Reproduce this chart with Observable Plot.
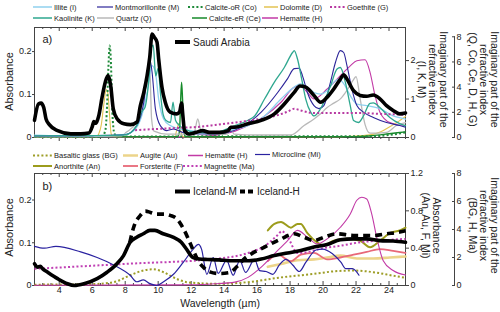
<!DOCTYPE html>
<html><head><meta charset="utf-8">
<script src="https://cdn.jsdelivr.net/npm/d3@7"></script>
<script src="https://cdn.jsdelivr.net/npm/@observablehq/plot@0.6"></script>
<style>
body{margin:0;background:#fff;}
#root{position:relative;width:500px;height:312px;overflow:hidden;font-family:"Liberation Sans",Arial,sans-serif;}
#root svg{position:absolute;left:0;}
</style></head><body><div id="root"></div>
<script>
// ---------- Panel a data (x in µm) ----------
const saX = [2.5,2.74,2.9,3.06,3.2,3.4,3.9,4.7,5.3,5.8,6.0,6.1,6.2,6.27,6.4,6.6,6.8,6.96,7.12,7.28,7.52,7.92,8.32,8.72,8.92,9.13,9.33,9.49,9.63,9.77,9.93,10.03,10.23,10.43,10.73,11.13,11.3,11.42,11.5,11.6,11.9,12.3,12.7,13.1,13.7,14.25,14.4,14.65,15.45,16.25,17.05,17.65,18.25,18.6,18.95,19.45,19.85,20.25,20.65,21.05,21.25,21.45,21.85,22.25,22.65,23.05,23.45,23.85,24.25,24.65,25];
const saV = [0.04,0.078,0.08,0.07,0.043,0.03,0.016,0.0085,0.0085,0.0105,0.025,0.037,0.033,0.036,0.051,0.094,0.13,0.144,0.121,0.066,0.043,0.032,0.03,0.036,0.074,0.105,0.144,0.187,0.241,0.233,0.222,0.183,0.117,0.082,0.059,0.055,0.06,0.08,0.05,0.016,0.008,0.012,0.016,0.012,0.012,0.016,0.024,0.024,0.032,0.04,0.055,0.078,0.105,0.12,0.117,0.098,0.082,0.094,0.113,0.136,0.146,0.136,0.109,0.098,0.096,0.099,0.09,0.074,0.063,0.055,0.057];

// imaginary index, axis (I, K, M)
const illX = [2.5,4,6,8.0,8.5,9.0,9.33,9.63,9.83,10.03,10.33,10.73,11.33,12.0,12.7,13.45,14.65,15.45,16.45,17.45,18.25,18.65,19.05,19.45,19.85,20.25,20.65,20.95,21.25,21.65,22.05,22.65,23.45,24.25,25.0];
const illK = [0.06,0.04,0.04,0.08,0.17,0.56,1.17,1.87,1.70,1.0,0.48,0.31,0.22,0.18,0.13,0.13,0.22,0.31,0.56,1.0,1.31,1.40,1.31,1.17,1.13,1.22,1.44,1.52,1.40,1.09,0.87,0.83,0.75,0.56,0.48];
const kaoX = [2.5,6,8.0,8.7,9.0,9.2,9.45,9.6,9.7,9.85,10.0,10.15,10.3,10.46,10.75,10.9,11.05,11.3,11.6,12.3,13.45,14.65,15.45,15.85,16.45,17.05,17.65,18.15,18.25,18.45,18.7,18.95,19.25,19.45,19.85,20.45,20.85,21.05,21.35,21.65,21.85,22.15,22.45,22.85,23.05,23.45,24.05,24.65,25];
const kaoK = [0.04,0.05,0.07,0.31,0.67,0.78,1.56,2.35,2.4,1.6,1.8,1.1,0.6,0.45,0.39,0.92,0.45,0.31,0.22,0.13,0.13,0.31,0.45,0.56,1.0,1.44,1.82,2.21,2.26,2.04,1.53,1.0,0.66,0.56,0.75,1.34,1.78,1.82,1.44,0.83,0.44,0.39,0.56,0.89,0.9,0.78,0.52,0.36,0.31];
const monX = [2.5,6,8,8.7,9.13,9.43,9.49,9.63,9.83,10.13,10.53,10.93,11.5,12.5,13.45,15.05,16.25,17.25,17.85,18.25,18.55,18.75,19.05,19.45,19.75,20.05,20.45,20.75,21.05,21.25,21.45,21.75,22.05,22.45,23.05,23.85,24.65,25];
const monK = [0.04,0.05,0.07,0.31,0.92,1.95,2.04,1.7,0.75,0.31,0.18,0.22,0.13,0.09,0.09,0.27,0.66,1.17,1.53,1.79,1.8,1.61,1.17,0.83,0.75,0.83,1.44,1.95,2.26,2.21,1.87,1.26,0.83,0.66,0.52,0.39,0.31,0.27];

// imaginary index, axis (Q, Co, Ce, D, H, G)
const qzX = [2.5,7.8,8.06,8.7,8.9,9.13,9.28,9.4,9.5,9.6,9.75,10.5,11.5,12.2,12.4,12.6,13.0,14.2,14.4,14.6,16,18.05,18.85,19.45,19.85,20.25,20.65,21.05,21.45,21.85,22.0,22.25,22.55,22.85,23.85,24.45,25];
const qzK = [0.07,0.14,0.41,1.23,2.05,3.07,4.64,5.29,5.12,1.5,0.5,0.27,0.27,0.51,1.47,0.51,0.27,0.27,0.68,0.27,0.2,0.2,0.95,1.47,1.88,2.39,2.73,3.07,3.75,4.6,4.84,3.07,1.02,0.34,0.41,0.95,1.19];
const coX = [2.5,6.6,6.8,6.9,6.98,7.06,7.14,7.22,7.35,7.6,13.8,14.0,14.2,23,24,25];
const coK = [0.05,0.07,0.6,2.5,5.5,7.3,5.8,2.0,0.3,0.07,0.1,0.4,0.1,0.1,0.2,0.4];
const ceX = [2.5,11.2,11.3,11.36,11.42,11.48,11.55,11.65,22,23,24,25];
const ceK = [0.05,0.07,0.6,2.8,4.4,3.0,0.6,0.07,0.07,0.15,0.3,0.45];
const doX = [2.5,6.3,6.4,6.55,6.7,6.85,6.95,7.05,7.15,7.3,11.0,11.15,11.25,11.35,11.5,21,22,23,23.5,24.1,24.6,25];
const doK = [0.05,0.07,0.3,1.0,2.6,3.8,3.5,1.8,0.3,0.07,0.07,0.7,1.1,0.6,0.07,0.07,0.12,0.25,0.45,0.89,1.3,1.67];
const heAX = [2.5,12,13.45,14.45,15.45,16.45,17.45,18.25,18.6,19.05,19.45,20.25,21.05,21.65,22.05,22.55,22.85,23.15,23.45,24.05,25];
const heAK = [0.02,0.05,0.17,0.41,0.95,1.7,2.8,4.0,4.1,3.58,3.07,3.85,4.91,5.69,6.1,6.17,5.18,3.34,2.01,1.19,0.95];
const goX = [8.6,9.5,11,12.5,13.45,15.45,17.05,17.85,18.25,18.65,19.45,20.65,22.25,23.45,25];
const goK = [0.58,0.65,0.75,0.85,0.99,1.33,1.7,2.05,2.28,2.15,1.94,1.94,1.94,1.88,1.81];

// ---------- Panel b data ----------
const imX = [2.5,2.7,2.85,3.0,3.3,3.9,4.5,4.9,5.5,6.3,6.9,7.5,7.9,8.3,8.7,9.1,9.5,9.8,10.3,10.9,11.4,11.7,12.1,12.5,13.0,13.7,14.3,15.0,15.5,16.25,17.05,17.85,18.65,19.45,20.25,21.05,21.85,22.65,23.45,24.25,25];
const imV = [0.051,0.043,0.045,0.039,0.031,0.016,0.004,0.0,0.004,0.016,0.031,0.051,0.07,0.101,0.113,0.121,0.129,0.129,0.121,0.113,0.101,0.086,0.066,0.062,0.061,0.06,0.058,0.058,0.058,0.062,0.07,0.076,0.082,0.09,0.096,0.107,0.109,0.109,0.105,0.104,0.101];
const ihX = [8.28,8.52,8.92,9.23,9.53,9.93,10.33,10.73,11.13,11.53,11.83,12.13,12.43,12.73,13.13,13.7,14.3,14.8,15.3,15.65,16.45,17.45,18.25,18.85,19.45,20.05,20.85,21.85,23.05,23.85,24.65,25];
const ihV = [0.101,0.137,0.164,0.174,0.171,0.167,0.167,0.164,0.156,0.133,0.109,0.082,0.058,0.043,0.032,0.028,0.03,0.045,0.065,0.074,0.09,0.109,0.121,0.113,0.105,0.113,0.121,0.117,0.117,0.121,0.125,0.128];
// absorbance axis (An, Au, F, Mi)
const miX = [2.5,3.1,3.8,5.3,6.3,7.3,8.3,8.7,9.1,9.5,9.9,10.33,10.93,11.53,12.13,12.44,12.63,12.95,13.34,13.64,14.15,14.55,14.95,15.3,15.85,16.15,16.55,16.95,17.35,17.75,18.16,18.56,18.96,19.57,19.97,20.57,21.08,21.38,21.78,22.18];
const miA = [0.42,0.40,0.42,0.36,0.30,0.22,0.11,0.04,0.06,0.02,0.0,0.04,0.12,0.25,0.39,0.44,0.39,0.12,0.30,0.13,0.27,0.11,0.27,0.14,0.28,0.16,0.15,0.12,0.22,0.28,0.22,0.15,0.25,0.38,0.39,0.34,0.25,0.18,0.18,0.11];
const anX = [16.65,17.05,17.45,18.05,18.45,18.65,19.05,19.65,20.05,20.65,21.45,22.25,22.85,23.45,24.05,24.65,25];
const anA = [0.59,0.66,0.68,0.62,0.66,0.66,0.56,0.46,0.43,0.48,0.5,0.48,0.41,0.48,0.56,0.59,0.62];
const auX = [16.65,17.45,18.45,19.45,20.25,21.05,22.05,23.05,24.05,25];
const auA = [0.2,0.23,0.27,0.28,0.3,0.32,0.29,0.29,0.3,0.31];
const foX = [16.65,17.25,18.05,18.65,19.45,20.25,21.05,21.85,22.65,23.45,24.25,25];
const foA = [0.26,0.33,0.26,0.33,0.35,0.28,0.3,0.33,0.36,0.39,0.37,0.35];
// imaginary index axis (BG, H, Ma)
const maX = [2.5,8.3,13.45,15.45,16.45,17.25,17.5,17.85,18.45,19.05,19.85,21.05,22.25,23.45,25];
const maK = [1.19,1.56,1.9,2.32,2.81,3.61,3.88,3.46,2.32,2.39,2.63,2.84,3.09,3.21,3.33];
const bgX = [2.5,6,7.3,8.3,9.1,9.7,10.33,10.93,11.73,12.73,13.45,15.45,17.45,19.45,20.65,21.85,23.05,24.25,25];
const bgK = [0.06,0.1,0.24,0.73,1.07,1.16,0.95,0.58,0.24,0.15,0.12,0.24,0.58,0.83,1.01,1.07,0.95,0.7,0.55];
const heBX = [2.5,12,13.45,14.65,15.45,16.25,17.05,17.85,18.45,19.05,19.65,20.25,21.05,21.65,22.05,22.35,22.65,22.95,23.25,23.65,24.25,25];
const heBK = [0.02,0.05,0.12,0.24,0.58,1.31,2.26,3.21,3.94,3.46,2.97,3.33,4.16,5.11,6.09,6.3,6.18,5.11,3.46,1.77,1.07,0.75];

// ---------- ticks ----------
const xMajor = [4,6,8,10,12,14,16,18,20,22,24];
const xMinor = d3.range(3, 25.01, 0.5).filter(t => t % 2 !== 0);
const absTicks = [0, 0.1, 0.2];
const aR1Ticks = [0, 1, 2];
const aR2Ticks = [0, 2, 4, 6, 8];
const bR1Ticks = [0, 0.4, 0.8, 1.2];
const bR2Ticks = [0, 2, 4, 6, 8];

// ---------- scale factors between right axes and absorbance ----------
const yMaxA = 0.256, yMaxB = 0.262;
const fa1 = 0.0895, fa2 = 0.0293;
const fb1 = yMaxB / 1.2, fb2 = yMaxB / 8;

// colours
const C = {
  I: "#8fd0ee", K: "#2ea78f", M: "#2c2499", Q: "#b9b9b9", Co: "#1f8a3a", Ce: "#168a2a",
  D: "#e3c352", H: "#c23aa6", G: "#b83aa2", BG: "#9d9d26", Au: "#ecd48a", Mi: "#2a22a0",
  An: "#9c9c1c", F: "#e86878", Ma: "#c040b4"
};
const FONT = '"Liberation Sans", Arial, sans-serif';
const AX = "#444";

function series(xs, ys, f) { return xs.map((x, i) => ({x, y: ys[i] * f})); }
function ln(xs, ys, f, o) {
  return Plot.line(series(xs, ys, f), {x: "x", y: "y", curve: "monotone-x", strokeLinejoin: "round", strokeWidth: 1.1, ...o});
}
const fmt = v => { const r = Math.round(v * 10) / 10; return String(r); };
const DOT = {strokeWidth: 2, strokeDasharray: "2,2.2", strokeLinecap: "butt"};
const T = {textAnchor: "middle", lineAnchor: "middle"};

function commonMarks(frameH, r1, f1, r2, f2, bottomLabels) {
  return [
    Plot.frame({stroke: AX}),
    Plot.tickX(xMajor, {insetBottom: frameH - 4, stroke: AX}),
    Plot.tickX(xMinor, {insetBottom: frameH - 2, stroke: AX}),
    bottomLabels
      ? Plot.tickX(xMajor, {insetTop: frameH - 4, stroke: AX})
      : Plot.axisX({anchor: "bottom", ticks: xMajor, tickSize: 4, tickFormat: () => "", label: null, stroke: AX}),
    bottomLabels
      ? Plot.tickX(xMinor, {insetTop: frameH - 2, stroke: AX})
      : Plot.axisX({anchor: "bottom", ticks: xMinor, tickSize: 2, tickFormat: () => "", label: null, stroke: AX}),
    Plot.axisY({anchor: "left", ticks: absTicks, tickSize: 2, tickPadding: 1, fontSize: 9,
      tickFormat: d => d === 0 ? "0" : d3.format(".1f")(d), label: null, stroke: AX}),
    Plot.axisY({anchor: "right", ticks: r1.map(k => k * f1), tickSize: 3, tickPadding: 2, fontSize: 9,
      tickFormat: d => fmt(d / f1), label: null, stroke: AX}),
    Plot.ruleX([25], {y1: 0, y2: 8 * f2, dx: 49, stroke: AX}),
    Plot.axisY({anchor: "right", ticks: r2.map(k => k * f2), tickSize: 3, dx: 46, tickFormat: () => "", label: null, stroke: AX}),
    Plot.axisY({anchor: "right", ticks: r2.map(k => k * f2), tickSize: 0, tickPadding: 2, dx: 49, fontSize: 9,
      tickFormat: d => fmt(d / f2), label: null})
  ];
}

const plotA = Plot.plot({
  width: 500, height: 148, marginTop: 27, marginBottom: 11, marginLeft: 34, marginRight: 95,
  x: {domain: [2.5, 25], axis: null, label: null},
  y: {domain: [0, yMaxA], axis: null, label: null},
  style: {fontFamily: FONT, fontSize: "9px", color: "#222", background: "transparent"},
  marks: [
    ...commonMarks(110, aR1Ticks, fa1, aR2Ticks, fa2, false),
    Plot.text(["Absorbance"], {frameAnchor: "left", rotate: -90, dx: -25, dy: -1, fontSize: 11, ...T}),
    Plot.text(["Imaginary part of the\nrefractive index\n(I, K, M)"], {frameAnchor: "right", rotate: 90, dx: 27, dy: -3, fontSize: 10.5, lineHeight: 1.05, ...T}),
    Plot.text(["Imaginary part of the\nrefractive index\n(Q, Co, Ce, D, H, G)"], {frameAnchor: "right", rotate: 90, dx: 78, dy: -3, fontSize: 10.5, lineHeight: 1.05, ...T}),
    Plot.text(["a)"], {frameAnchor: "top-left", dx: 8, dy: 12, fontSize: 11, textAnchor: "start", lineAnchor: "middle"}),
    ln(heAX, heAK, fa2, {stroke: C.H}),
    ln(doX, doK, fa2, {stroke: C.D}),
    ln(ceX, ceK, fa2, {stroke: C.Ce, strokeWidth: 1.4}),
    ln(coX, coK, fa2, {stroke: C.Co, ...DOT}),
    ln(qzX, qzK, fa2, {stroke: C.Q, strokeWidth: 1.3}),
    ln(illX, illK, fa1, {stroke: C.I, strokeWidth: 1.3}),
    ln(monX, monK, fa1, {stroke: C.M}),
    ln(kaoX, kaoK, fa1, {stroke: C.K, strokeWidth: 1.3}),
    ln(goX, goK, fa2, {stroke: C.G, ...DOT}),
    ln(saX, saV, 1, {stroke: "#000", strokeWidth: 3.6})
  ]
});

const plotB = Plot.plot({
  width: 500, height: 164, marginTop: 25, marginBottom: 27, marginLeft: 34, marginRight: 95,
  x: {domain: [2.5, 25], axis: null, label: null},
  y: {domain: [0, yMaxB], axis: null, label: null},
  style: {fontFamily: FONT, fontSize: "9px", color: "#222", background: "transparent"},
  marks: [
    ...commonMarks(112, bR1Ticks, fb1, bR2Ticks, fb2, true),
    Plot.axisX({anchor: "bottom", ticks: xMajor, tickSize: 0, tickPadding: 1, fontSize: 9, label: null}),
    Plot.text(["Wavelength (µm)"], {frameAnchor: "bottom", dy: 18, fontSize: 10.5, ...T}),
    Plot.text(["Absorbance"], {frameAnchor: "left", rotate: -90, dx: -25, dy: -2, fontSize: 11, ...T}),
    Plot.text(["Absorbance\n(An, Au, F, Mi)"], {frameAnchor: "right", rotate: 90, dx: 26, dy: -4, fontSize: 10.5, lineHeight: 1.05, ...T}),
    Plot.text(["Imaginary part of the\nrefractive index\n(BG, H, Ma)"], {frameAnchor: "right", rotate: 90, dx: 78, dy: -4, fontSize: 10.5, lineHeight: 1.05, ...T}),
    Plot.text(["b)"], {frameAnchor: "top-left", dx: 8, dy: 13, fontSize: 11, textAnchor: "start", lineAnchor: "middle"}),
    ln(bgX, bgK, fb2, {stroke: C.BG, ...DOT}),
    ln(auX, auA, fb1, {stroke: C.Au, strokeWidth: 2.6}),
    ln(foX, foA, fb1, {stroke: C.F, strokeWidth: 1.8}),
    ln(anX, anA, fb1, {stroke: C.An, strokeWidth: 2}),
    ln(heBX, heBK, fb2, {stroke: C.H}),
    ln(maX, maK, fb2, {stroke: C.Ma, ...DOT}),
    ln(miX, miA, fb1, {stroke: C.Mi, strokeWidth: 1.2}),
    ln(imX, imV, 1, {stroke: "#000", strokeWidth: 3.6}),
    ln(ihX, ihV, 1, {stroke: "#000", strokeWidth: 3.6, strokeDasharray: "7,5", strokeLinecap: "butt"})
  ]
});

const root = document.getElementById("root");
plotA.style.top = "0px";
plotB.style.top = "148px";
root.appendChild(plotA);
root.appendChild(plotB);

// ---------- legends (added around / over the plots) ----------
const legendItems = [
  {label: "Illite (I)", c: C.I, w: 1.5, x1: 33, x2: 52, tx: 54, y: 7},
  {label: "Montmorillonite (M)", c: C.M, w: 1.2, x1: 97, x2: 113, tx: 115, y: 7},
  {label: "Calcite-oR (Co)", c: C.Co, w: 2, dash: "2,2.2", x1: 188, x2: 203, tx: 205, y: 7},
  {label: "Dolomite (D)", c: C.D, w: 1.5, x1: 264, x2: 278, tx: 280, y: 7},
  {label: "Goethite (G)", c: C.G, w: 2, dash: "2,2.2", x1: 330, x2: 345, tx: 347, y: 7},
  {label: "Kaolinite (K)", c: C.K, w: 1.5, x1: 33, x2: 52, tx: 54, y: 18},
  {label: "Quartz (Q)", c: C.Q, w: 1.5, x1: 97, x2: 114, tx: 116, y: 18},
  {label: "Calcite-eR (Ce)", c: C.Ce, w: 1.5, x1: 192, x2: 207, tx: 209, y: 18},
  {label: "Hematite (H)", c: C.H, w: 1.5, x1: 262, x2: 278, tx: 280, y: 18},
  {label: "Basaltic glass (BG)", c: C.BG, w: 2, dash: "2,2.2", x1: 33, x2: 52, tx: 54, y: 155.5},
  {label: "Augite (Au)", c: C.Au, w: 2.5, x1: 123, x2: 138, tx: 140, y: 155.5},
  {label: "Hematite (H)", c: C.H, w: 1.5, x1: 188, x2: 203, tx: 205, y: 155.5},
  {label: "Microcline (Mi)", c: C.Mi, w: 1.2, x1: 255, x2: 270, tx: 272, y: 154.5},
  {label: "Anorthite (An)", c: C.An, w: 2, x1: 33, x2: 52, tx: 54, y: 166},
  {label: "Forsterite (F)", c: C.F, w: 1.8, x1: 123, x2: 138, tx: 140, y: 166},
  {label: "Magnetite (Ma)", c: C.Ma, w: 2, dash: "2,2.2", x1: 183, x2: 202, tx: 204, y: 166},
  {label: "Saudi Arabia", c: "#000", w: 4, x1: 175, x2: 190, tx: 193, y: 42, fs: 10},
  {label: "Iceland-M", c: "#000", w: 4, x1: 175, x2: 190, tx: 193, y: 191.5, fs: 10},
  {label: "Iceland-H", c: "#000", w: 4, dash: "5,3", x1: 240, x2: 254, tx: 257, y: 191.5, fs: 10}
];
const ov = d3.select(root).append("svg").attr("width", 500).attr("height", 312)
  .style("top", "0px").style("pointer-events", "none");
for (const it of legendItems) {
  ov.append("line").attr("x1", it.x1).attr("x2", it.x2).attr("y1", it.y).attr("y2", it.y)
    .attr("stroke", it.c).attr("stroke-width", it.w).attr("stroke-dasharray", it.dash || null);
  ov.append("text").attr("x", it.tx).attr("y", it.y).attr("dy", "0.35em")
    .attr("font-family", FONT).attr("font-size", it.fs || 7.5).attr("fill", "#222").text(it.label);
}
</script></body></html>
